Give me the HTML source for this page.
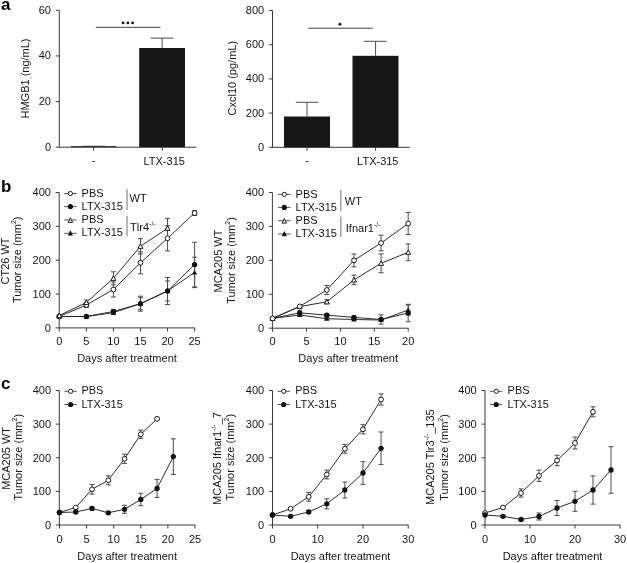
<!DOCTYPE html>
<html><head><meta charset="utf-8"><style>
html,body{margin:0;padding:0;background:#fff;}
body{width:627px;height:563px;overflow:hidden;}
svg{display:block;font-family:"Liberation Sans", sans-serif;filter:grayscale(1);}
</style></head><body>
<svg width="627" height="563" viewBox="0 0 627 563">
<rect width="627" height="563" fill="#fff"/>
<text x="1.00" y="9.60" font-size="17" text-anchor="start" font-weight="bold" fill="#000">a</text>
<text x="1.00" y="191.50" font-size="17" text-anchor="start" font-weight="bold" fill="#000">b</text>
<text x="1.00" y="388.60" font-size="17" text-anchor="start" font-weight="bold" fill="#000">c</text>
<line x1="59.30" y1="10.30" x2="59.30" y2="147.20" stroke="#3a3a3a" stroke-width="1.0"/>
<line x1="55.80" y1="147.20" x2="59.30" y2="147.20" stroke="#3a3a3a" stroke-width="1.0"/>
<text x="51.00" y="150.60" font-size="11" text-anchor="end" font-weight="normal" fill="#151515">0</text>
<line x1="55.80" y1="101.57" x2="59.30" y2="101.57" stroke="#3a3a3a" stroke-width="1.0"/>
<text x="51.00" y="104.97" font-size="11" text-anchor="end" font-weight="normal" fill="#151515">20</text>
<line x1="55.80" y1="55.93" x2="59.30" y2="55.93" stroke="#3a3a3a" stroke-width="1.0"/>
<text x="51.00" y="59.33" font-size="11" text-anchor="end" font-weight="normal" fill="#151515">40</text>
<line x1="55.80" y1="10.30" x2="59.30" y2="10.30" stroke="#3a3a3a" stroke-width="1.0"/>
<text x="51.00" y="13.70" font-size="11" text-anchor="end" font-weight="normal" fill="#151515">60</text>
<line x1="59.30" y1="147.20" x2="196.50" y2="147.20" stroke="#3a3a3a" stroke-width="1.0"/>
<line x1="93.60" y1="147.20" x2="93.60" y2="150.70" stroke="#3a3a3a" stroke-width="1.0"/>
<line x1="162.20" y1="147.20" x2="162.20" y2="150.70" stroke="#3a3a3a" stroke-width="1.0"/>
<text x="93.60" y="164.30" font-size="11" text-anchor="middle" font-weight="normal" fill="#151515">-</text>
<text x="164.20" y="164.60" font-size="11" text-anchor="middle" font-weight="normal" fill="#151515">LTX-315</text>
<rect x="71.0" y="146.20" width="45.4" height="1.0" fill="#222"/>
<line x1="82.30" y1="146.30" x2="105.00" y2="146.30" stroke="#333" stroke-width="1.0"/>
<rect x="139.2" y="48" width="45.8" height="99.20" fill="#171717"/>
<line x1="162.10" y1="48.00" x2="162.10" y2="38.10" stroke="#4c4c4c" stroke-width="1.0"/>
<line x1="150.60" y1="38.10" x2="173.40" y2="38.10" stroke="#4c4c4c" stroke-width="1.0"/>
<line x1="95.80" y1="27.30" x2="160.60" y2="27.30" stroke="#444" stroke-width="1.0"/>
<circle cx="123.1" cy="22.9" r="1.45" fill="#1a1a1a"/>
<circle cx="127.9" cy="22.9" r="1.45" fill="#1a1a1a"/>
<circle cx="132.6" cy="22.9" r="1.45" fill="#1a1a1a"/>
<text x="28.60" y="78.50" font-size="11" text-anchor="middle" font-weight="normal" fill="#151515" transform="rotate(-90 28.60 78.50)">HMGB1 (ng/mL)</text>
<line x1="272.50" y1="10.50" x2="272.50" y2="147.30" stroke="#3a3a3a" stroke-width="1.0"/>
<line x1="269.00" y1="147.30" x2="272.50" y2="147.30" stroke="#3a3a3a" stroke-width="1.0"/>
<text x="264.20" y="150.70" font-size="11" text-anchor="end" font-weight="normal" fill="#151515">0</text>
<line x1="269.00" y1="113.10" x2="272.50" y2="113.10" stroke="#3a3a3a" stroke-width="1.0"/>
<text x="264.20" y="116.50" font-size="11" text-anchor="end" font-weight="normal" fill="#151515">200</text>
<line x1="269.00" y1="78.90" x2="272.50" y2="78.90" stroke="#3a3a3a" stroke-width="1.0"/>
<text x="264.20" y="82.30" font-size="11" text-anchor="end" font-weight="normal" fill="#151515">400</text>
<line x1="269.00" y1="44.70" x2="272.50" y2="44.70" stroke="#3a3a3a" stroke-width="1.0"/>
<text x="264.20" y="48.10" font-size="11" text-anchor="end" font-weight="normal" fill="#151515">600</text>
<line x1="269.00" y1="10.50" x2="272.50" y2="10.50" stroke="#3a3a3a" stroke-width="1.0"/>
<text x="264.20" y="13.90" font-size="11" text-anchor="end" font-weight="normal" fill="#151515">800</text>
<line x1="272.50" y1="147.30" x2="409.80" y2="147.30" stroke="#3a3a3a" stroke-width="1.0"/>
<line x1="307.00" y1="147.30" x2="307.00" y2="150.80" stroke="#3a3a3a" stroke-width="1.0"/>
<line x1="375.60" y1="147.30" x2="375.60" y2="150.80" stroke="#3a3a3a" stroke-width="1.0"/>
<text x="307.00" y="164.30" font-size="11" text-anchor="middle" font-weight="normal" fill="#151515">-</text>
<text x="377.80" y="164.60" font-size="11" text-anchor="middle" font-weight="normal" fill="#151515">LTX-315</text>
<rect x="284" y="116.5" width="46" height="30.80" fill="#171717"/>
<rect x="352.5" y="55.8" width="46" height="91.50" fill="#171717"/>
<line x1="307.00" y1="116.50" x2="307.00" y2="102.30" stroke="#4c4c4c" stroke-width="1.0"/>
<line x1="295.80" y1="102.30" x2="318.30" y2="102.30" stroke="#4c4c4c" stroke-width="1.0"/>
<line x1="375.60" y1="55.80" x2="375.60" y2="41.30" stroke="#4c4c4c" stroke-width="1.0"/>
<line x1="364.00" y1="41.30" x2="386.60" y2="41.30" stroke="#4c4c4c" stroke-width="1.0"/>
<line x1="308.00" y1="28.20" x2="372.70" y2="28.20" stroke="#444" stroke-width="1.0"/>
<circle cx="339.9" cy="24.3" r="1.45" fill="#1a1a1a"/>
<text x="235.60" y="78.20" font-size="11" text-anchor="middle" font-weight="normal" fill="#151515" transform="rotate(-90 235.60 78.20)">Cxcl10 (pg/mL)</text>
<line x1="59.20" y1="192.50" x2="59.20" y2="327.90" stroke="#3a3a3a" stroke-width="1.0"/>
<line x1="55.70" y1="327.90" x2="59.20" y2="327.90" stroke="#3a3a3a" stroke-width="1.0"/>
<text x="50.90" y="331.80" font-size="11" text-anchor="end" font-weight="normal" fill="#151515">0</text>
<line x1="55.70" y1="294.05" x2="59.20" y2="294.05" stroke="#3a3a3a" stroke-width="1.0"/>
<text x="50.90" y="297.95" font-size="11" text-anchor="end" font-weight="normal" fill="#151515">100</text>
<line x1="55.70" y1="260.20" x2="59.20" y2="260.20" stroke="#3a3a3a" stroke-width="1.0"/>
<text x="50.90" y="264.10" font-size="11" text-anchor="end" font-weight="normal" fill="#151515">200</text>
<line x1="55.70" y1="226.35" x2="59.20" y2="226.35" stroke="#3a3a3a" stroke-width="1.0"/>
<text x="50.90" y="230.25" font-size="11" text-anchor="end" font-weight="normal" fill="#151515">300</text>
<line x1="55.70" y1="192.50" x2="59.20" y2="192.50" stroke="#3a3a3a" stroke-width="1.0"/>
<text x="50.90" y="196.40" font-size="11" text-anchor="end" font-weight="normal" fill="#151515">400</text>
<line x1="59.20" y1="327.90" x2="194.80" y2="327.90" stroke="#3a3a3a" stroke-width="1.0"/>
<line x1="59.30" y1="327.90" x2="59.30" y2="331.40" stroke="#3a3a3a" stroke-width="1.0"/>
<text x="59.30" y="344.90" font-size="11" text-anchor="middle" font-weight="normal" fill="#151515">0</text>
<line x1="86.36" y1="327.90" x2="86.36" y2="331.40" stroke="#3a3a3a" stroke-width="1.0"/>
<text x="86.36" y="344.90" font-size="11" text-anchor="middle" font-weight="normal" fill="#151515">5</text>
<line x1="113.42" y1="327.90" x2="113.42" y2="331.40" stroke="#3a3a3a" stroke-width="1.0"/>
<text x="113.42" y="344.90" font-size="11" text-anchor="middle" font-weight="normal" fill="#151515">10</text>
<line x1="140.48" y1="327.90" x2="140.48" y2="331.40" stroke="#3a3a3a" stroke-width="1.0"/>
<text x="140.48" y="344.90" font-size="11" text-anchor="middle" font-weight="normal" fill="#151515">15</text>
<line x1="167.54" y1="327.90" x2="167.54" y2="331.40" stroke="#3a3a3a" stroke-width="1.0"/>
<text x="167.54" y="344.90" font-size="11" text-anchor="middle" font-weight="normal" fill="#151515">20</text>
<line x1="194.60" y1="327.90" x2="194.60" y2="331.40" stroke="#3a3a3a" stroke-width="1.0"/>
<text x="194.60" y="344.90" font-size="11" text-anchor="middle" font-weight="normal" fill="#151515">25</text>
<text x="127.00" y="362.30" font-size="11" text-anchor="middle" font-weight="normal" fill="#151515">Days after treatment</text>
<text x="9.40" y="261.00" font-size="11" text-anchor="middle" font-weight="normal" fill="#151515" transform="rotate(-90 9.40 261.00)">CT26 WT</text>
<text x="21.40" y="259.80" font-size="11" text-anchor="middle" font-weight="normal" fill="#151515" transform="rotate(-90 21.40 259.80)">Tumor size (mm<tspan font-size="7" dy="-5">2</tspan><tspan dy="5">)</tspan></text>
<polyline points="59.30,316.50 86.36,316.50 113.42,312.60 140.48,303.70 167.54,291.00 194.60,272.40" fill="none" stroke="#222" stroke-width="0.95"/>
<polyline points="59.30,316.50 86.36,316.50 113.42,311.50 140.48,303.70 167.54,291.00 194.60,264.60" fill="none" stroke="#222" stroke-width="0.95"/>
<polyline points="59.30,316.50 86.36,305.00 113.42,289.50 140.48,262.80 167.54,238.30 194.60,213.10" fill="none" stroke="#222" stroke-width="0.95"/>
<polyline points="59.30,315.50 86.36,302.50 113.42,278.30 140.48,246.30 167.54,228.30" fill="none" stroke="#222" stroke-width="0.95"/>
<line x1="113.42" y1="310.60" x2="113.42" y2="314.60" stroke="#4c4c4c" stroke-width="1.0"/>
<line x1="110.92" y1="310.60" x2="115.92" y2="310.60" stroke="#4c4c4c" stroke-width="1.0"/>
<line x1="110.92" y1="314.60" x2="115.92" y2="314.60" stroke="#4c4c4c" stroke-width="1.0"/>
<line x1="140.48" y1="297.70" x2="140.48" y2="309.70" stroke="#4c4c4c" stroke-width="1.0"/>
<line x1="137.98" y1="297.70" x2="142.98" y2="297.70" stroke="#4c4c4c" stroke-width="1.0"/>
<line x1="137.98" y1="309.70" x2="142.98" y2="309.70" stroke="#4c4c4c" stroke-width="1.0"/>
<line x1="167.54" y1="281.00" x2="167.54" y2="301.00" stroke="#4c4c4c" stroke-width="1.0"/>
<line x1="165.04" y1="281.00" x2="170.04" y2="281.00" stroke="#4c4c4c" stroke-width="1.0"/>
<line x1="165.04" y1="301.00" x2="170.04" y2="301.00" stroke="#4c4c4c" stroke-width="1.0"/>
<line x1="194.60" y1="257.20" x2="194.60" y2="287.60" stroke="#4c4c4c" stroke-width="1.0"/>
<line x1="192.10" y1="257.20" x2="197.10" y2="257.20" stroke="#4c4c4c" stroke-width="1.0"/>
<line x1="192.10" y1="287.60" x2="197.10" y2="287.60" stroke="#4c4c4c" stroke-width="1.0"/>
<line x1="86.36" y1="315.50" x2="86.36" y2="317.50" stroke="#4c4c4c" stroke-width="1.0"/>
<line x1="83.86" y1="315.50" x2="88.86" y2="315.50" stroke="#4c4c4c" stroke-width="1.0"/>
<line x1="83.86" y1="317.50" x2="88.86" y2="317.50" stroke="#4c4c4c" stroke-width="1.0"/>
<line x1="113.42" y1="309.50" x2="113.42" y2="313.50" stroke="#4c4c4c" stroke-width="1.0"/>
<line x1="110.92" y1="309.50" x2="115.92" y2="309.50" stroke="#4c4c4c" stroke-width="1.0"/>
<line x1="110.92" y1="313.50" x2="115.92" y2="313.50" stroke="#4c4c4c" stroke-width="1.0"/>
<line x1="140.48" y1="296.20" x2="140.48" y2="311.20" stroke="#4c4c4c" stroke-width="1.0"/>
<line x1="137.98" y1="296.20" x2="142.98" y2="296.20" stroke="#4c4c4c" stroke-width="1.0"/>
<line x1="137.98" y1="311.20" x2="142.98" y2="311.20" stroke="#4c4c4c" stroke-width="1.0"/>
<line x1="167.54" y1="277.50" x2="167.54" y2="304.50" stroke="#4c4c4c" stroke-width="1.0"/>
<line x1="165.04" y1="277.50" x2="170.04" y2="277.50" stroke="#4c4c4c" stroke-width="1.0"/>
<line x1="165.04" y1="304.50" x2="170.04" y2="304.50" stroke="#4c4c4c" stroke-width="1.0"/>
<line x1="194.60" y1="242.30" x2="194.60" y2="286.90" stroke="#4c4c4c" stroke-width="1.0"/>
<line x1="192.10" y1="242.30" x2="197.10" y2="242.30" stroke="#4c4c4c" stroke-width="1.0"/>
<line x1="192.10" y1="286.90" x2="197.10" y2="286.90" stroke="#4c4c4c" stroke-width="1.0"/>
<line x1="86.36" y1="302.50" x2="86.36" y2="307.50" stroke="#4c4c4c" stroke-width="1.0"/>
<line x1="83.86" y1="302.50" x2="88.86" y2="302.50" stroke="#4c4c4c" stroke-width="1.0"/>
<line x1="83.86" y1="307.50" x2="88.86" y2="307.50" stroke="#4c4c4c" stroke-width="1.0"/>
<line x1="113.42" y1="282.00" x2="113.42" y2="297.00" stroke="#4c4c4c" stroke-width="1.0"/>
<line x1="110.92" y1="282.00" x2="115.92" y2="282.00" stroke="#4c4c4c" stroke-width="1.0"/>
<line x1="110.92" y1="297.00" x2="115.92" y2="297.00" stroke="#4c4c4c" stroke-width="1.0"/>
<line x1="140.48" y1="251.80" x2="140.48" y2="273.80" stroke="#4c4c4c" stroke-width="1.0"/>
<line x1="137.98" y1="251.80" x2="142.98" y2="251.80" stroke="#4c4c4c" stroke-width="1.0"/>
<line x1="137.98" y1="273.80" x2="142.98" y2="273.80" stroke="#4c4c4c" stroke-width="1.0"/>
<line x1="167.54" y1="225.70" x2="167.54" y2="250.90" stroke="#4c4c4c" stroke-width="1.0"/>
<line x1="165.04" y1="225.70" x2="170.04" y2="225.70" stroke="#4c4c4c" stroke-width="1.0"/>
<line x1="165.04" y1="250.90" x2="170.04" y2="250.90" stroke="#4c4c4c" stroke-width="1.0"/>
<line x1="194.60" y1="210.70" x2="194.60" y2="215.50" stroke="#4c4c4c" stroke-width="1.0"/>
<line x1="192.10" y1="210.70" x2="197.10" y2="210.70" stroke="#4c4c4c" stroke-width="1.0"/>
<line x1="192.10" y1="215.50" x2="197.10" y2="215.50" stroke="#4c4c4c" stroke-width="1.0"/>
<line x1="86.36" y1="300.00" x2="86.36" y2="305.00" stroke="#4c4c4c" stroke-width="1.0"/>
<line x1="83.86" y1="300.00" x2="88.86" y2="300.00" stroke="#4c4c4c" stroke-width="1.0"/>
<line x1="83.86" y1="305.00" x2="88.86" y2="305.00" stroke="#4c4c4c" stroke-width="1.0"/>
<line x1="113.42" y1="271.80" x2="113.42" y2="284.80" stroke="#4c4c4c" stroke-width="1.0"/>
<line x1="110.92" y1="271.80" x2="115.92" y2="271.80" stroke="#4c4c4c" stroke-width="1.0"/>
<line x1="110.92" y1="284.80" x2="115.92" y2="284.80" stroke="#4c4c4c" stroke-width="1.0"/>
<line x1="140.48" y1="238.70" x2="140.48" y2="253.90" stroke="#4c4c4c" stroke-width="1.0"/>
<line x1="137.98" y1="238.70" x2="142.98" y2="238.70" stroke="#4c4c4c" stroke-width="1.0"/>
<line x1="137.98" y1="253.90" x2="142.98" y2="253.90" stroke="#4c4c4c" stroke-width="1.0"/>
<line x1="167.54" y1="218.30" x2="167.54" y2="238.30" stroke="#4c4c4c" stroke-width="1.0"/>
<line x1="165.04" y1="218.30" x2="170.04" y2="218.30" stroke="#4c4c4c" stroke-width="1.0"/>
<line x1="165.04" y1="238.30" x2="170.04" y2="238.30" stroke="#4c4c4c" stroke-width="1.0"/>
<polygon points="59.30,314.30 56.70,318.60 61.90,318.60" fill="#111"/>
<polygon points="86.36,314.30 83.76,318.60 88.96,318.60" fill="#111"/>
<polygon points="113.42,310.40 110.82,314.70 116.02,314.70" fill="#111"/>
<polygon points="140.48,301.50 137.88,305.80 143.08,305.80" fill="#111"/>
<polygon points="167.54,288.80 164.94,293.10 170.14,293.10" fill="#111"/>
<polygon points="194.60,270.20 192.00,274.50 197.20,274.50" fill="#111"/>
<circle cx="59.30" cy="316.50" r="2.65" fill="#111"/>
<circle cx="86.36" cy="316.50" r="2.65" fill="#111"/>
<circle cx="113.42" cy="311.50" r="2.65" fill="#111"/>
<circle cx="140.48" cy="303.70" r="2.65" fill="#111"/>
<circle cx="167.54" cy="291.00" r="2.65" fill="#111"/>
<circle cx="194.60" cy="264.60" r="2.65" fill="#111"/>
<circle cx="59.30" cy="316.50" r="2.40" fill="#fff" stroke="#111" stroke-width="0.95"/>
<circle cx="86.36" cy="305.00" r="2.40" fill="#fff" stroke="#111" stroke-width="0.95"/>
<circle cx="113.42" cy="289.50" r="2.40" fill="#fff" stroke="#111" stroke-width="0.95"/>
<circle cx="140.48" cy="262.80" r="2.40" fill="#fff" stroke="#111" stroke-width="0.95"/>
<circle cx="167.54" cy="238.30" r="2.40" fill="#fff" stroke="#111" stroke-width="0.95"/>
<circle cx="194.60" cy="213.10" r="2.40" fill="#fff" stroke="#111" stroke-width="0.95"/>
<polygon points="59.30,313.05 56.85,317.58 61.75,317.58" fill="#fff" stroke="#111" stroke-width="0.95" stroke-linejoin="round"/>
<polygon points="86.36,300.05 83.91,304.58 88.81,304.58" fill="#fff" stroke="#111" stroke-width="0.95" stroke-linejoin="round"/>
<polygon points="113.42,275.85 110.97,280.38 115.87,280.38" fill="#fff" stroke="#111" stroke-width="0.95" stroke-linejoin="round"/>
<polygon points="140.48,243.85 138.03,248.38 142.93,248.38" fill="#fff" stroke="#111" stroke-width="0.95" stroke-linejoin="round"/>
<polygon points="167.54,225.85 165.09,230.38 169.99,230.38" fill="#fff" stroke="#111" stroke-width="0.95" stroke-linejoin="round"/>
<line x1="64.20" y1="193.50" x2="76.60" y2="193.50" stroke="#555" stroke-width="1.0"/>
<circle cx="70.40" cy="193.50" r="2.10" fill="#fff" stroke="#111" stroke-width="0.95"/>
<text x="81.60" y="196.60" font-size="11" text-anchor="start" font-weight="normal" fill="#151515">PBS</text>
<line x1="64.20" y1="206.60" x2="76.60" y2="206.60" stroke="#555" stroke-width="1.0"/>
<circle cx="70.40" cy="206.60" r="2.60" fill="#111"/>
<text x="81.60" y="209.70" font-size="11" text-anchor="start" font-weight="normal" fill="#151515">LTX-315</text>
<line x1="64.20" y1="220.00" x2="76.60" y2="220.00" stroke="#555" stroke-width="1.0"/>
<polygon points="70.40,217.70 68.25,222.40 72.55,222.40" fill="#fff" stroke="#111" stroke-width="0.95" stroke-linejoin="round"/>
<text x="81.60" y="223.10" font-size="11" text-anchor="start" font-weight="normal" fill="#151515">PBS</text>
<line x1="64.20" y1="233.30" x2="76.60" y2="233.30" stroke="#555" stroke-width="1.0"/>
<polygon points="70.40,230.30 67.80,235.50 73.00,235.50" fill="#111"/>
<text x="81.60" y="236.40" font-size="11" text-anchor="start" font-weight="normal" fill="#151515">LTX-315</text>
<line x1="127.00" y1="188.90" x2="127.00" y2="210.10" stroke="#8a8a8a" stroke-width="1.2"/>
<line x1="127.00" y1="215.70" x2="127.00" y2="236.30" stroke="#8a8a8a" stroke-width="1.2"/>
<text x="129.60" y="201.70" font-size="11" text-anchor="start" font-weight="normal" fill="#151515">WT</text>
<text x="130.10" y="231.10" font-size="11" text-anchor="start" font-weight="normal" fill="#151515">Tlr4<tspan font-size="7" dy="-5">-/-</tspan></text>
<line x1="272.40" y1="192.50" x2="272.40" y2="328.20" stroke="#3a3a3a" stroke-width="1.0"/>
<line x1="268.90" y1="328.20" x2="272.40" y2="328.20" stroke="#3a3a3a" stroke-width="1.0"/>
<text x="264.10" y="332.10" font-size="11" text-anchor="end" font-weight="normal" fill="#151515">0</text>
<line x1="268.90" y1="294.27" x2="272.40" y2="294.27" stroke="#3a3a3a" stroke-width="1.0"/>
<text x="264.10" y="298.17" font-size="11" text-anchor="end" font-weight="normal" fill="#151515">100</text>
<line x1="268.90" y1="260.35" x2="272.40" y2="260.35" stroke="#3a3a3a" stroke-width="1.0"/>
<text x="264.10" y="264.25" font-size="11" text-anchor="end" font-weight="normal" fill="#151515">200</text>
<line x1="268.90" y1="226.42" x2="272.40" y2="226.42" stroke="#3a3a3a" stroke-width="1.0"/>
<text x="264.10" y="230.32" font-size="11" text-anchor="end" font-weight="normal" fill="#151515">300</text>
<line x1="268.90" y1="192.50" x2="272.40" y2="192.50" stroke="#3a3a3a" stroke-width="1.0"/>
<text x="264.10" y="196.40" font-size="11" text-anchor="end" font-weight="normal" fill="#151515">400</text>
<line x1="272.40" y1="328.20" x2="408.60" y2="328.20" stroke="#3a3a3a" stroke-width="1.0"/>
<line x1="272.60" y1="328.20" x2="272.60" y2="331.70" stroke="#3a3a3a" stroke-width="1.0"/>
<text x="272.60" y="345.00" font-size="11" text-anchor="middle" font-weight="normal" fill="#151515">0</text>
<line x1="306.50" y1="328.20" x2="306.50" y2="331.70" stroke="#3a3a3a" stroke-width="1.0"/>
<text x="306.50" y="345.00" font-size="11" text-anchor="middle" font-weight="normal" fill="#151515">5</text>
<line x1="340.40" y1="328.20" x2="340.40" y2="331.70" stroke="#3a3a3a" stroke-width="1.0"/>
<text x="340.40" y="345.00" font-size="11" text-anchor="middle" font-weight="normal" fill="#151515">10</text>
<line x1="374.30" y1="328.20" x2="374.30" y2="331.70" stroke="#3a3a3a" stroke-width="1.0"/>
<text x="374.30" y="345.00" font-size="11" text-anchor="middle" font-weight="normal" fill="#151515">15</text>
<line x1="408.20" y1="328.20" x2="408.20" y2="331.70" stroke="#3a3a3a" stroke-width="1.0"/>
<text x="408.20" y="345.00" font-size="11" text-anchor="middle" font-weight="normal" fill="#151515">20</text>
<text x="348.20" y="362.30" font-size="11" text-anchor="middle" font-weight="normal" fill="#151515">Days after treatment</text>
<text x="222.40" y="261.00" font-size="11" text-anchor="middle" font-weight="normal" fill="#151515" transform="rotate(-90 222.40 261.00)">MCA205 WT</text>
<text x="234.60" y="260.50" font-size="11" text-anchor="middle" font-weight="normal" fill="#151515" transform="rotate(-90 234.60 260.50)">Tumor size (mm<tspan font-size="7" dy="-5">2</tspan><tspan dy="5">)</tspan></text>
<polyline points="272.60,318.40 299.72,315.00 326.84,318.70 353.96,319.50 381.08,320.00 408.20,310.00" fill="none" stroke="#222" stroke-width="0.95"/>
<polyline points="272.60,318.40 299.72,312.80 326.84,315.20 353.96,317.40 381.08,319.50 408.20,313.00" fill="none" stroke="#222" stroke-width="0.95"/>
<polyline points="272.60,318.40 299.72,306.60 326.84,301.80 353.96,279.90 381.08,263.30 408.20,252.30" fill="none" stroke="#222" stroke-width="0.95"/>
<polyline points="272.60,318.40 299.72,306.40 326.84,290.00 353.96,260.40 381.08,243.00 408.20,223.50" fill="none" stroke="#222" stroke-width="0.95"/>
<line x1="299.72" y1="314.00" x2="299.72" y2="316.00" stroke="#4c4c4c" stroke-width="1.0"/>
<line x1="297.22" y1="314.00" x2="302.22" y2="314.00" stroke="#4c4c4c" stroke-width="1.0"/>
<line x1="297.22" y1="316.00" x2="302.22" y2="316.00" stroke="#4c4c4c" stroke-width="1.0"/>
<line x1="326.84" y1="317.70" x2="326.84" y2="319.70" stroke="#4c4c4c" stroke-width="1.0"/>
<line x1="324.34" y1="317.70" x2="329.34" y2="317.70" stroke="#4c4c4c" stroke-width="1.0"/>
<line x1="324.34" y1="319.70" x2="329.34" y2="319.70" stroke="#4c4c4c" stroke-width="1.0"/>
<line x1="353.96" y1="318.50" x2="353.96" y2="320.50" stroke="#4c4c4c" stroke-width="1.0"/>
<line x1="351.46" y1="318.50" x2="356.46" y2="318.50" stroke="#4c4c4c" stroke-width="1.0"/>
<line x1="351.46" y1="320.50" x2="356.46" y2="320.50" stroke="#4c4c4c" stroke-width="1.0"/>
<line x1="381.08" y1="319.00" x2="381.08" y2="321.00" stroke="#4c4c4c" stroke-width="1.0"/>
<line x1="378.58" y1="319.00" x2="383.58" y2="319.00" stroke="#4c4c4c" stroke-width="1.0"/>
<line x1="378.58" y1="321.00" x2="383.58" y2="321.00" stroke="#4c4c4c" stroke-width="1.0"/>
<line x1="408.20" y1="305.00" x2="408.20" y2="315.00" stroke="#4c4c4c" stroke-width="1.0"/>
<line x1="405.70" y1="305.00" x2="410.70" y2="305.00" stroke="#4c4c4c" stroke-width="1.0"/>
<line x1="405.70" y1="315.00" x2="410.70" y2="315.00" stroke="#4c4c4c" stroke-width="1.0"/>
<line x1="299.72" y1="310.80" x2="299.72" y2="314.80" stroke="#4c4c4c" stroke-width="1.0"/>
<line x1="297.22" y1="310.80" x2="302.22" y2="310.80" stroke="#4c4c4c" stroke-width="1.0"/>
<line x1="297.22" y1="314.80" x2="302.22" y2="314.80" stroke="#4c4c4c" stroke-width="1.0"/>
<line x1="326.84" y1="313.70" x2="326.84" y2="316.70" stroke="#4c4c4c" stroke-width="1.0"/>
<line x1="324.34" y1="313.70" x2="329.34" y2="313.70" stroke="#4c4c4c" stroke-width="1.0"/>
<line x1="324.34" y1="316.70" x2="329.34" y2="316.70" stroke="#4c4c4c" stroke-width="1.0"/>
<line x1="353.96" y1="316.40" x2="353.96" y2="318.40" stroke="#4c4c4c" stroke-width="1.0"/>
<line x1="351.46" y1="316.40" x2="356.46" y2="316.40" stroke="#4c4c4c" stroke-width="1.0"/>
<line x1="351.46" y1="318.40" x2="356.46" y2="318.40" stroke="#4c4c4c" stroke-width="1.0"/>
<line x1="381.08" y1="314.90" x2="381.08" y2="324.10" stroke="#4c4c4c" stroke-width="1.0"/>
<line x1="378.58" y1="314.90" x2="383.58" y2="314.90" stroke="#4c4c4c" stroke-width="1.0"/>
<line x1="378.58" y1="324.10" x2="383.58" y2="324.10" stroke="#4c4c4c" stroke-width="1.0"/>
<line x1="408.20" y1="304.30" x2="408.20" y2="321.70" stroke="#4c4c4c" stroke-width="1.0"/>
<line x1="405.70" y1="304.30" x2="410.70" y2="304.30" stroke="#4c4c4c" stroke-width="1.0"/>
<line x1="405.70" y1="321.70" x2="410.70" y2="321.70" stroke="#4c4c4c" stroke-width="1.0"/>
<line x1="299.72" y1="305.60" x2="299.72" y2="307.60" stroke="#4c4c4c" stroke-width="1.0"/>
<line x1="297.22" y1="305.60" x2="302.22" y2="305.60" stroke="#4c4c4c" stroke-width="1.0"/>
<line x1="297.22" y1="307.60" x2="302.22" y2="307.60" stroke="#4c4c4c" stroke-width="1.0"/>
<line x1="326.84" y1="299.80" x2="326.84" y2="303.80" stroke="#4c4c4c" stroke-width="1.0"/>
<line x1="324.34" y1="299.80" x2="329.34" y2="299.80" stroke="#4c4c4c" stroke-width="1.0"/>
<line x1="324.34" y1="303.80" x2="329.34" y2="303.80" stroke="#4c4c4c" stroke-width="1.0"/>
<line x1="353.96" y1="275.10" x2="353.96" y2="284.70" stroke="#4c4c4c" stroke-width="1.0"/>
<line x1="351.46" y1="275.10" x2="356.46" y2="275.10" stroke="#4c4c4c" stroke-width="1.0"/>
<line x1="351.46" y1="284.70" x2="356.46" y2="284.70" stroke="#4c4c4c" stroke-width="1.0"/>
<line x1="381.08" y1="253.90" x2="381.08" y2="272.70" stroke="#4c4c4c" stroke-width="1.0"/>
<line x1="378.58" y1="253.90" x2="383.58" y2="253.90" stroke="#4c4c4c" stroke-width="1.0"/>
<line x1="378.58" y1="272.70" x2="383.58" y2="272.70" stroke="#4c4c4c" stroke-width="1.0"/>
<line x1="408.20" y1="243.90" x2="408.20" y2="260.70" stroke="#4c4c4c" stroke-width="1.0"/>
<line x1="405.70" y1="243.90" x2="410.70" y2="243.90" stroke="#4c4c4c" stroke-width="1.0"/>
<line x1="405.70" y1="260.70" x2="410.70" y2="260.70" stroke="#4c4c4c" stroke-width="1.0"/>
<line x1="299.72" y1="305.40" x2="299.72" y2="307.40" stroke="#4c4c4c" stroke-width="1.0"/>
<line x1="297.22" y1="305.40" x2="302.22" y2="305.40" stroke="#4c4c4c" stroke-width="1.0"/>
<line x1="297.22" y1="307.40" x2="302.22" y2="307.40" stroke="#4c4c4c" stroke-width="1.0"/>
<line x1="326.84" y1="285.50" x2="326.84" y2="294.50" stroke="#4c4c4c" stroke-width="1.0"/>
<line x1="324.34" y1="285.50" x2="329.34" y2="285.50" stroke="#4c4c4c" stroke-width="1.0"/>
<line x1="324.34" y1="294.50" x2="329.34" y2="294.50" stroke="#4c4c4c" stroke-width="1.0"/>
<line x1="353.96" y1="254.00" x2="353.96" y2="266.80" stroke="#4c4c4c" stroke-width="1.0"/>
<line x1="351.46" y1="254.00" x2="356.46" y2="254.00" stroke="#4c4c4c" stroke-width="1.0"/>
<line x1="351.46" y1="266.80" x2="356.46" y2="266.80" stroke="#4c4c4c" stroke-width="1.0"/>
<line x1="381.08" y1="235.20" x2="381.08" y2="250.80" stroke="#4c4c4c" stroke-width="1.0"/>
<line x1="378.58" y1="235.20" x2="383.58" y2="235.20" stroke="#4c4c4c" stroke-width="1.0"/>
<line x1="378.58" y1="250.80" x2="383.58" y2="250.80" stroke="#4c4c4c" stroke-width="1.0"/>
<line x1="408.20" y1="212.50" x2="408.20" y2="234.50" stroke="#4c4c4c" stroke-width="1.0"/>
<line x1="405.70" y1="212.50" x2="410.70" y2="212.50" stroke="#4c4c4c" stroke-width="1.0"/>
<line x1="405.70" y1="234.50" x2="410.70" y2="234.50" stroke="#4c4c4c" stroke-width="1.0"/>
<polygon points="272.60,316.20 270.00,320.50 275.20,320.50" fill="#111"/>
<polygon points="299.72,312.80 297.12,317.10 302.32,317.10" fill="#111"/>
<polygon points="326.84,316.50 324.24,320.80 329.44,320.80" fill="#111"/>
<polygon points="353.96,317.30 351.36,321.60 356.56,321.60" fill="#111"/>
<polygon points="381.08,317.80 378.48,322.10 383.68,322.10" fill="#111"/>
<polygon points="408.20,307.80 405.60,312.10 410.80,312.10" fill="#111"/>
<circle cx="272.60" cy="318.40" r="2.65" fill="#111"/>
<circle cx="299.72" cy="312.80" r="2.65" fill="#111"/>
<circle cx="326.84" cy="315.20" r="2.65" fill="#111"/>
<circle cx="353.96" cy="317.40" r="2.65" fill="#111"/>
<circle cx="381.08" cy="319.50" r="2.65" fill="#111"/>
<circle cx="408.20" cy="313.00" r="2.65" fill="#111"/>
<polygon points="272.60,315.95 270.15,320.48 275.05,320.48" fill="#fff" stroke="#111" stroke-width="0.95" stroke-linejoin="round"/>
<polygon points="299.72,304.15 297.27,308.68 302.17,308.68" fill="#fff" stroke="#111" stroke-width="0.95" stroke-linejoin="round"/>
<polygon points="326.84,299.35 324.39,303.88 329.29,303.88" fill="#fff" stroke="#111" stroke-width="0.95" stroke-linejoin="round"/>
<polygon points="353.96,277.45 351.51,281.98 356.41,281.98" fill="#fff" stroke="#111" stroke-width="0.95" stroke-linejoin="round"/>
<polygon points="381.08,260.85 378.63,265.38 383.53,265.38" fill="#fff" stroke="#111" stroke-width="0.95" stroke-linejoin="round"/>
<polygon points="408.20,249.85 405.75,254.38 410.65,254.38" fill="#fff" stroke="#111" stroke-width="0.95" stroke-linejoin="round"/>
<circle cx="272.60" cy="318.40" r="2.40" fill="#fff" stroke="#111" stroke-width="0.95"/>
<circle cx="299.72" cy="306.40" r="2.40" fill="#fff" stroke="#111" stroke-width="0.95"/>
<circle cx="326.84" cy="290.00" r="2.40" fill="#fff" stroke="#111" stroke-width="0.95"/>
<circle cx="353.96" cy="260.40" r="2.40" fill="#fff" stroke="#111" stroke-width="0.95"/>
<circle cx="381.08" cy="243.00" r="2.40" fill="#fff" stroke="#111" stroke-width="0.95"/>
<circle cx="408.20" cy="223.50" r="2.40" fill="#fff" stroke="#111" stroke-width="0.95"/>
<line x1="278.10" y1="194.40" x2="290.50" y2="194.40" stroke="#555" stroke-width="1.0"/>
<circle cx="284.30" cy="194.40" r="2.10" fill="#fff" stroke="#111" stroke-width="0.95"/>
<text x="295.60" y="197.50" font-size="11" text-anchor="start" font-weight="normal" fill="#151515">PBS</text>
<line x1="278.10" y1="207.40" x2="290.50" y2="207.40" stroke="#555" stroke-width="1.0"/>
<circle cx="284.30" cy="207.40" r="2.60" fill="#111"/>
<text x="295.60" y="210.50" font-size="11" text-anchor="start" font-weight="normal" fill="#151515">LTX-315</text>
<line x1="278.10" y1="220.70" x2="290.50" y2="220.70" stroke="#555" stroke-width="1.0"/>
<polygon points="284.30,218.40 282.15,223.10 286.45,223.10" fill="#fff" stroke="#111" stroke-width="0.95" stroke-linejoin="round"/>
<text x="295.60" y="223.80" font-size="11" text-anchor="start" font-weight="normal" fill="#151515">PBS</text>
<line x1="278.10" y1="234.00" x2="290.50" y2="234.00" stroke="#555" stroke-width="1.0"/>
<polygon points="284.30,231.00 281.70,236.20 286.90,236.20" fill="#111"/>
<text x="295.60" y="237.10" font-size="11" text-anchor="start" font-weight="normal" fill="#151515">LTX-315</text>
<line x1="340.80" y1="189.80" x2="340.80" y2="210.90" stroke="#8a8a8a" stroke-width="1.2"/>
<line x1="340.80" y1="216.40" x2="340.80" y2="237.00" stroke="#8a8a8a" stroke-width="1.2"/>
<text x="344.80" y="205.20" font-size="11" text-anchor="start" font-weight="normal" fill="#151515">WT</text>
<text x="345.80" y="232.30" font-size="11" text-anchor="start" font-weight="normal" fill="#151515">Ifnar1<tspan font-size="7" dy="-5">-/-</tspan></text>
<line x1="59.30" y1="390.50" x2="59.30" y2="525.00" stroke="#3a3a3a" stroke-width="1.0"/>
<line x1="55.80" y1="525.00" x2="59.30" y2="525.00" stroke="#3a3a3a" stroke-width="1.0"/>
<text x="51.00" y="528.90" font-size="11" text-anchor="end" font-weight="normal" fill="#151515">0</text>
<line x1="55.80" y1="491.38" x2="59.30" y2="491.38" stroke="#3a3a3a" stroke-width="1.0"/>
<text x="51.00" y="495.27" font-size="11" text-anchor="end" font-weight="normal" fill="#151515">100</text>
<line x1="55.80" y1="457.75" x2="59.30" y2="457.75" stroke="#3a3a3a" stroke-width="1.0"/>
<text x="51.00" y="461.65" font-size="11" text-anchor="end" font-weight="normal" fill="#151515">200</text>
<line x1="55.80" y1="424.12" x2="59.30" y2="424.12" stroke="#3a3a3a" stroke-width="1.0"/>
<text x="51.00" y="428.02" font-size="11" text-anchor="end" font-weight="normal" fill="#151515">300</text>
<line x1="55.80" y1="390.50" x2="59.30" y2="390.50" stroke="#3a3a3a" stroke-width="1.0"/>
<text x="51.00" y="394.40" font-size="11" text-anchor="end" font-weight="normal" fill="#151515">400</text>
<line x1="59.30" y1="525.00" x2="195.30" y2="525.00" stroke="#3a3a3a" stroke-width="1.0"/>
<line x1="59.50" y1="525.00" x2="59.50" y2="528.50" stroke="#3a3a3a" stroke-width="1.0"/>
<text x="59.50" y="542.90" font-size="11" text-anchor="middle" font-weight="normal" fill="#151515">0</text>
<line x1="86.60" y1="525.00" x2="86.60" y2="528.50" stroke="#3a3a3a" stroke-width="1.0"/>
<text x="86.60" y="542.90" font-size="11" text-anchor="middle" font-weight="normal" fill="#151515">5</text>
<line x1="113.70" y1="525.00" x2="113.70" y2="528.50" stroke="#3a3a3a" stroke-width="1.0"/>
<text x="113.70" y="542.90" font-size="11" text-anchor="middle" font-weight="normal" fill="#151515">10</text>
<line x1="140.80" y1="525.00" x2="140.80" y2="528.50" stroke="#3a3a3a" stroke-width="1.0"/>
<text x="140.80" y="542.90" font-size="11" text-anchor="middle" font-weight="normal" fill="#151515">15</text>
<line x1="167.90" y1="525.00" x2="167.90" y2="528.50" stroke="#3a3a3a" stroke-width="1.0"/>
<text x="167.90" y="542.90" font-size="11" text-anchor="middle" font-weight="normal" fill="#151515">20</text>
<line x1="195.00" y1="525.00" x2="195.00" y2="528.50" stroke="#3a3a3a" stroke-width="1.0"/>
<text x="195.00" y="542.90" font-size="11" text-anchor="middle" font-weight="normal" fill="#151515">25</text>
<text x="127.20" y="560.00" font-size="11" text-anchor="middle" font-weight="normal" fill="#151515">Days after treatment</text>
<text x="9.80" y="458.40" font-size="11" text-anchor="middle" font-weight="normal" fill="#151515" transform="rotate(-90 9.80 458.40)">MCA205 WT</text>
<text x="22.00" y="457.20" font-size="11" text-anchor="middle" font-weight="normal" fill="#151515" transform="rotate(-90 22.00 457.20)">Tumor size (mm<tspan font-size="7" dy="-5">2</tspan><tspan dy="5">)</tspan></text>
<polyline points="59.50,512.50 75.76,507.50 92.02,489.30 108.28,480.30 124.54,458.80 140.80,434.30 157.06,418.80" fill="none" stroke="#222" stroke-width="0.95"/>
<polyline points="59.50,512.50 75.76,512.00 92.02,508.40 108.28,512.80 124.54,509.30 140.80,499.50 157.06,488.40 173.32,456.60" fill="none" stroke="#222" stroke-width="0.95"/>
<line x1="75.76" y1="506.50" x2="75.76" y2="508.50" stroke="#4c4c4c" stroke-width="1.0"/>
<line x1="73.26" y1="506.50" x2="78.26" y2="506.50" stroke="#4c4c4c" stroke-width="1.0"/>
<line x1="73.26" y1="508.50" x2="78.26" y2="508.50" stroke="#4c4c4c" stroke-width="1.0"/>
<line x1="92.02" y1="484.50" x2="92.02" y2="494.10" stroke="#4c4c4c" stroke-width="1.0"/>
<line x1="89.52" y1="484.50" x2="94.52" y2="484.50" stroke="#4c4c4c" stroke-width="1.0"/>
<line x1="89.52" y1="494.10" x2="94.52" y2="494.10" stroke="#4c4c4c" stroke-width="1.0"/>
<line x1="108.28" y1="475.80" x2="108.28" y2="484.80" stroke="#4c4c4c" stroke-width="1.0"/>
<line x1="105.78" y1="475.80" x2="110.78" y2="475.80" stroke="#4c4c4c" stroke-width="1.0"/>
<line x1="105.78" y1="484.80" x2="110.78" y2="484.80" stroke="#4c4c4c" stroke-width="1.0"/>
<line x1="124.54" y1="454.20" x2="124.54" y2="463.40" stroke="#4c4c4c" stroke-width="1.0"/>
<line x1="122.04" y1="454.20" x2="127.04" y2="454.20" stroke="#4c4c4c" stroke-width="1.0"/>
<line x1="122.04" y1="463.40" x2="127.04" y2="463.40" stroke="#4c4c4c" stroke-width="1.0"/>
<line x1="140.80" y1="430.20" x2="140.80" y2="438.40" stroke="#4c4c4c" stroke-width="1.0"/>
<line x1="138.30" y1="430.20" x2="143.30" y2="430.20" stroke="#4c4c4c" stroke-width="1.0"/>
<line x1="138.30" y1="438.40" x2="143.30" y2="438.40" stroke="#4c4c4c" stroke-width="1.0"/>
<line x1="157.06" y1="417.80" x2="157.06" y2="419.80" stroke="#4c4c4c" stroke-width="1.0"/>
<line x1="154.56" y1="417.80" x2="159.56" y2="417.80" stroke="#4c4c4c" stroke-width="1.0"/>
<line x1="154.56" y1="419.80" x2="159.56" y2="419.80" stroke="#4c4c4c" stroke-width="1.0"/>
<line x1="75.76" y1="511.00" x2="75.76" y2="513.00" stroke="#4c4c4c" stroke-width="1.0"/>
<line x1="73.26" y1="511.00" x2="78.26" y2="511.00" stroke="#4c4c4c" stroke-width="1.0"/>
<line x1="73.26" y1="513.00" x2="78.26" y2="513.00" stroke="#4c4c4c" stroke-width="1.0"/>
<line x1="92.02" y1="506.90" x2="92.02" y2="509.90" stroke="#4c4c4c" stroke-width="1.0"/>
<line x1="89.52" y1="506.90" x2="94.52" y2="506.90" stroke="#4c4c4c" stroke-width="1.0"/>
<line x1="89.52" y1="509.90" x2="94.52" y2="509.90" stroke="#4c4c4c" stroke-width="1.0"/>
<line x1="108.28" y1="511.80" x2="108.28" y2="513.80" stroke="#4c4c4c" stroke-width="1.0"/>
<line x1="105.78" y1="511.80" x2="110.78" y2="511.80" stroke="#4c4c4c" stroke-width="1.0"/>
<line x1="105.78" y1="513.80" x2="110.78" y2="513.80" stroke="#4c4c4c" stroke-width="1.0"/>
<line x1="124.54" y1="505.30" x2="124.54" y2="513.30" stroke="#4c4c4c" stroke-width="1.0"/>
<line x1="122.04" y1="505.30" x2="127.04" y2="505.30" stroke="#4c4c4c" stroke-width="1.0"/>
<line x1="122.04" y1="513.30" x2="127.04" y2="513.30" stroke="#4c4c4c" stroke-width="1.0"/>
<line x1="140.80" y1="493.30" x2="140.80" y2="505.70" stroke="#4c4c4c" stroke-width="1.0"/>
<line x1="138.30" y1="493.30" x2="143.30" y2="493.30" stroke="#4c4c4c" stroke-width="1.0"/>
<line x1="138.30" y1="505.70" x2="143.30" y2="505.70" stroke="#4c4c4c" stroke-width="1.0"/>
<line x1="157.06" y1="479.40" x2="157.06" y2="497.40" stroke="#4c4c4c" stroke-width="1.0"/>
<line x1="154.56" y1="479.40" x2="159.56" y2="479.40" stroke="#4c4c4c" stroke-width="1.0"/>
<line x1="154.56" y1="497.40" x2="159.56" y2="497.40" stroke="#4c4c4c" stroke-width="1.0"/>
<line x1="173.32" y1="438.80" x2="173.32" y2="474.40" stroke="#4c4c4c" stroke-width="1.0"/>
<line x1="170.82" y1="438.80" x2="175.82" y2="438.80" stroke="#4c4c4c" stroke-width="1.0"/>
<line x1="170.82" y1="474.40" x2="175.82" y2="474.40" stroke="#4c4c4c" stroke-width="1.0"/>
<circle cx="59.50" cy="512.50" r="2.40" fill="#fff" stroke="#111" stroke-width="0.95"/>
<circle cx="75.76" cy="507.50" r="2.40" fill="#fff" stroke="#111" stroke-width="0.95"/>
<circle cx="92.02" cy="489.30" r="2.40" fill="#fff" stroke="#111" stroke-width="0.95"/>
<circle cx="108.28" cy="480.30" r="2.40" fill="#fff" stroke="#111" stroke-width="0.95"/>
<circle cx="124.54" cy="458.80" r="2.40" fill="#fff" stroke="#111" stroke-width="0.95"/>
<circle cx="140.80" cy="434.30" r="2.40" fill="#fff" stroke="#111" stroke-width="0.95"/>
<circle cx="157.06" cy="418.80" r="2.40" fill="#fff" stroke="#111" stroke-width="0.95"/>
<circle cx="59.50" cy="512.50" r="2.65" fill="#111"/>
<circle cx="75.76" cy="512.00" r="2.65" fill="#111"/>
<circle cx="92.02" cy="508.40" r="2.65" fill="#111"/>
<circle cx="108.28" cy="512.80" r="2.65" fill="#111"/>
<circle cx="124.54" cy="509.30" r="2.65" fill="#111"/>
<circle cx="140.80" cy="499.50" r="2.65" fill="#111"/>
<circle cx="157.06" cy="488.40" r="2.65" fill="#111"/>
<circle cx="173.32" cy="456.60" r="2.65" fill="#111"/>
<line x1="64.40" y1="391.30" x2="76.80" y2="391.30" stroke="#555" stroke-width="1.0"/>
<circle cx="70.60" cy="391.30" r="2.10" fill="#fff" stroke="#111" stroke-width="0.95"/>
<text x="81.40" y="394.40" font-size="11" text-anchor="start" font-weight="normal" fill="#151515">PBS</text>
<line x1="64.40" y1="404.50" x2="76.80" y2="404.50" stroke="#555" stroke-width="1.0"/>
<circle cx="70.60" cy="404.50" r="2.60" fill="#111"/>
<text x="81.40" y="407.60" font-size="11" text-anchor="start" font-weight="normal" fill="#151515">LTX-315</text>
<line x1="272.50" y1="390.50" x2="272.50" y2="525.00" stroke="#3a3a3a" stroke-width="1.0"/>
<line x1="269.00" y1="525.00" x2="272.50" y2="525.00" stroke="#3a3a3a" stroke-width="1.0"/>
<text x="264.20" y="528.90" font-size="11" text-anchor="end" font-weight="normal" fill="#151515">0</text>
<line x1="269.00" y1="491.38" x2="272.50" y2="491.38" stroke="#3a3a3a" stroke-width="1.0"/>
<text x="264.20" y="495.27" font-size="11" text-anchor="end" font-weight="normal" fill="#151515">100</text>
<line x1="269.00" y1="457.75" x2="272.50" y2="457.75" stroke="#3a3a3a" stroke-width="1.0"/>
<text x="264.20" y="461.65" font-size="11" text-anchor="end" font-weight="normal" fill="#151515">200</text>
<line x1="269.00" y1="424.12" x2="272.50" y2="424.12" stroke="#3a3a3a" stroke-width="1.0"/>
<text x="264.20" y="428.02" font-size="11" text-anchor="end" font-weight="normal" fill="#151515">300</text>
<line x1="269.00" y1="390.50" x2="272.50" y2="390.50" stroke="#3a3a3a" stroke-width="1.0"/>
<text x="264.20" y="394.40" font-size="11" text-anchor="end" font-weight="normal" fill="#151515">400</text>
<line x1="272.50" y1="525.00" x2="408.40" y2="525.00" stroke="#3a3a3a" stroke-width="1.0"/>
<line x1="272.50" y1="525.00" x2="272.50" y2="528.50" stroke="#3a3a3a" stroke-width="1.0"/>
<text x="272.50" y="543.20" font-size="11" text-anchor="middle" font-weight="normal" fill="#151515">0</text>
<line x1="317.73" y1="525.00" x2="317.73" y2="528.50" stroke="#3a3a3a" stroke-width="1.0"/>
<text x="317.73" y="543.20" font-size="11" text-anchor="middle" font-weight="normal" fill="#151515">10</text>
<line x1="362.97" y1="525.00" x2="362.97" y2="528.50" stroke="#3a3a3a" stroke-width="1.0"/>
<text x="362.97" y="543.20" font-size="11" text-anchor="middle" font-weight="normal" fill="#151515">20</text>
<line x1="408.20" y1="525.00" x2="408.20" y2="528.50" stroke="#3a3a3a" stroke-width="1.0"/>
<text x="408.20" y="543.20" font-size="11" text-anchor="middle" font-weight="normal" fill="#151515">30</text>
<text x="340.50" y="560.30" font-size="11" text-anchor="middle" font-weight="normal" fill="#151515">Days after treatment</text>
<text x="220.90" y="458.50" font-size="11" text-anchor="middle" font-weight="normal" fill="#151515" transform="rotate(-90 220.90 458.50)">MCA205 Ifnar1<tspan font-size="7" dy="-5">-/-</tspan><tspan dy="5">_7</tspan></text>
<text x="234.50" y="457.20" font-size="11" text-anchor="middle" font-weight="normal" fill="#151515" transform="rotate(-90 234.50 457.20)">Tumor size (mm<tspan font-size="7" dy="-5">2</tspan><tspan dy="5">)</tspan></text>
<polyline points="272.50,515.00 290.59,508.80 308.69,496.80 326.78,474.50 344.87,448.80 362.97,429.30 381.06,399.50" fill="none" stroke="#222" stroke-width="0.95"/>
<polyline points="272.50,515.00 290.59,516.30 308.69,512.00 326.78,503.80 344.87,490.00 362.97,473.00 381.06,448.30" fill="none" stroke="#222" stroke-width="0.95"/>
<line x1="290.59" y1="507.80" x2="290.59" y2="509.80" stroke="#4c4c4c" stroke-width="1.0"/>
<line x1="288.09" y1="507.80" x2="293.09" y2="507.80" stroke="#4c4c4c" stroke-width="1.0"/>
<line x1="288.09" y1="509.80" x2="293.09" y2="509.80" stroke="#4c4c4c" stroke-width="1.0"/>
<line x1="308.69" y1="492.40" x2="308.69" y2="501.20" stroke="#4c4c4c" stroke-width="1.0"/>
<line x1="306.19" y1="492.40" x2="311.19" y2="492.40" stroke="#4c4c4c" stroke-width="1.0"/>
<line x1="306.19" y1="501.20" x2="311.19" y2="501.20" stroke="#4c4c4c" stroke-width="1.0"/>
<line x1="326.78" y1="470.10" x2="326.78" y2="478.90" stroke="#4c4c4c" stroke-width="1.0"/>
<line x1="324.28" y1="470.10" x2="329.28" y2="470.10" stroke="#4c4c4c" stroke-width="1.0"/>
<line x1="324.28" y1="478.90" x2="329.28" y2="478.90" stroke="#4c4c4c" stroke-width="1.0"/>
<line x1="344.87" y1="444.40" x2="344.87" y2="453.20" stroke="#4c4c4c" stroke-width="1.0"/>
<line x1="342.37" y1="444.40" x2="347.37" y2="444.40" stroke="#4c4c4c" stroke-width="1.0"/>
<line x1="342.37" y1="453.20" x2="347.37" y2="453.20" stroke="#4c4c4c" stroke-width="1.0"/>
<line x1="362.97" y1="424.70" x2="362.97" y2="433.90" stroke="#4c4c4c" stroke-width="1.0"/>
<line x1="360.47" y1="424.70" x2="365.47" y2="424.70" stroke="#4c4c4c" stroke-width="1.0"/>
<line x1="360.47" y1="433.90" x2="365.47" y2="433.90" stroke="#4c4c4c" stroke-width="1.0"/>
<line x1="381.06" y1="393.90" x2="381.06" y2="405.10" stroke="#4c4c4c" stroke-width="1.0"/>
<line x1="378.56" y1="393.90" x2="383.56" y2="393.90" stroke="#4c4c4c" stroke-width="1.0"/>
<line x1="378.56" y1="405.10" x2="383.56" y2="405.10" stroke="#4c4c4c" stroke-width="1.0"/>
<line x1="290.59" y1="515.30" x2="290.59" y2="517.30" stroke="#4c4c4c" stroke-width="1.0"/>
<line x1="288.09" y1="515.30" x2="293.09" y2="515.30" stroke="#4c4c4c" stroke-width="1.0"/>
<line x1="288.09" y1="517.30" x2="293.09" y2="517.30" stroke="#4c4c4c" stroke-width="1.0"/>
<line x1="308.69" y1="510.80" x2="308.69" y2="513.20" stroke="#4c4c4c" stroke-width="1.0"/>
<line x1="306.19" y1="510.80" x2="311.19" y2="510.80" stroke="#4c4c4c" stroke-width="1.0"/>
<line x1="306.19" y1="513.20" x2="311.19" y2="513.20" stroke="#4c4c4c" stroke-width="1.0"/>
<line x1="326.78" y1="498.80" x2="326.78" y2="508.80" stroke="#4c4c4c" stroke-width="1.0"/>
<line x1="324.28" y1="498.80" x2="329.28" y2="498.80" stroke="#4c4c4c" stroke-width="1.0"/>
<line x1="324.28" y1="508.80" x2="329.28" y2="508.80" stroke="#4c4c4c" stroke-width="1.0"/>
<line x1="344.87" y1="482.00" x2="344.87" y2="498.00" stroke="#4c4c4c" stroke-width="1.0"/>
<line x1="342.37" y1="482.00" x2="347.37" y2="482.00" stroke="#4c4c4c" stroke-width="1.0"/>
<line x1="342.37" y1="498.00" x2="347.37" y2="498.00" stroke="#4c4c4c" stroke-width="1.0"/>
<line x1="362.97" y1="461.70" x2="362.97" y2="484.30" stroke="#4c4c4c" stroke-width="1.0"/>
<line x1="360.47" y1="461.70" x2="365.47" y2="461.70" stroke="#4c4c4c" stroke-width="1.0"/>
<line x1="360.47" y1="484.30" x2="365.47" y2="484.30" stroke="#4c4c4c" stroke-width="1.0"/>
<line x1="381.06" y1="432.00" x2="381.06" y2="464.60" stroke="#4c4c4c" stroke-width="1.0"/>
<line x1="378.56" y1="432.00" x2="383.56" y2="432.00" stroke="#4c4c4c" stroke-width="1.0"/>
<line x1="378.56" y1="464.60" x2="383.56" y2="464.60" stroke="#4c4c4c" stroke-width="1.0"/>
<circle cx="272.50" cy="515.00" r="2.40" fill="#fff" stroke="#111" stroke-width="0.95"/>
<circle cx="290.59" cy="508.80" r="2.40" fill="#fff" stroke="#111" stroke-width="0.95"/>
<circle cx="308.69" cy="496.80" r="2.40" fill="#fff" stroke="#111" stroke-width="0.95"/>
<circle cx="326.78" cy="474.50" r="2.40" fill="#fff" stroke="#111" stroke-width="0.95"/>
<circle cx="344.87" cy="448.80" r="2.40" fill="#fff" stroke="#111" stroke-width="0.95"/>
<circle cx="362.97" cy="429.30" r="2.40" fill="#fff" stroke="#111" stroke-width="0.95"/>
<circle cx="381.06" cy="399.50" r="2.40" fill="#fff" stroke="#111" stroke-width="0.95"/>
<circle cx="272.50" cy="515.00" r="2.65" fill="#111"/>
<circle cx="290.59" cy="516.30" r="2.65" fill="#111"/>
<circle cx="308.69" cy="512.00" r="2.65" fill="#111"/>
<circle cx="326.78" cy="503.80" r="2.65" fill="#111"/>
<circle cx="344.87" cy="490.00" r="2.65" fill="#111"/>
<circle cx="362.97" cy="473.00" r="2.65" fill="#111"/>
<circle cx="381.06" cy="448.30" r="2.65" fill="#111"/>
<line x1="277.50" y1="391.30" x2="289.90" y2="391.30" stroke="#555" stroke-width="1.0"/>
<circle cx="283.70" cy="391.30" r="2.10" fill="#fff" stroke="#111" stroke-width="0.95"/>
<text x="295.20" y="394.40" font-size="11" text-anchor="start" font-weight="normal" fill="#151515">PBS</text>
<line x1="277.50" y1="404.50" x2="289.90" y2="404.50" stroke="#555" stroke-width="1.0"/>
<circle cx="283.70" cy="404.50" r="2.60" fill="#111"/>
<text x="295.20" y="407.60" font-size="11" text-anchor="start" font-weight="normal" fill="#151515">LTX-315</text>
<line x1="485.00" y1="390.50" x2="485.00" y2="525.00" stroke="#3a3a3a" stroke-width="1.0"/>
<line x1="481.50" y1="525.00" x2="485.00" y2="525.00" stroke="#3a3a3a" stroke-width="1.0"/>
<text x="476.70" y="528.90" font-size="11" text-anchor="end" font-weight="normal" fill="#151515">0</text>
<line x1="481.50" y1="491.38" x2="485.00" y2="491.38" stroke="#3a3a3a" stroke-width="1.0"/>
<text x="476.70" y="495.27" font-size="11" text-anchor="end" font-weight="normal" fill="#151515">100</text>
<line x1="481.50" y1="457.75" x2="485.00" y2="457.75" stroke="#3a3a3a" stroke-width="1.0"/>
<text x="476.70" y="461.65" font-size="11" text-anchor="end" font-weight="normal" fill="#151515">200</text>
<line x1="481.50" y1="424.12" x2="485.00" y2="424.12" stroke="#3a3a3a" stroke-width="1.0"/>
<text x="476.70" y="428.02" font-size="11" text-anchor="end" font-weight="normal" fill="#151515">300</text>
<line x1="481.50" y1="390.50" x2="485.00" y2="390.50" stroke="#3a3a3a" stroke-width="1.0"/>
<text x="476.70" y="394.40" font-size="11" text-anchor="end" font-weight="normal" fill="#151515">400</text>
<line x1="485.00" y1="525.00" x2="620.30" y2="525.00" stroke="#3a3a3a" stroke-width="1.0"/>
<line x1="485.00" y1="525.00" x2="485.00" y2="528.50" stroke="#3a3a3a" stroke-width="1.0"/>
<text x="485.00" y="543.20" font-size="11" text-anchor="middle" font-weight="normal" fill="#151515">0</text>
<line x1="530.00" y1="525.00" x2="530.00" y2="528.50" stroke="#3a3a3a" stroke-width="1.0"/>
<text x="530.00" y="543.20" font-size="11" text-anchor="middle" font-weight="normal" fill="#151515">10</text>
<line x1="575.00" y1="525.00" x2="575.00" y2="528.50" stroke="#3a3a3a" stroke-width="1.0"/>
<text x="575.00" y="543.20" font-size="11" text-anchor="middle" font-weight="normal" fill="#151515">20</text>
<line x1="620.00" y1="525.00" x2="620.00" y2="528.50" stroke="#3a3a3a" stroke-width="1.0"/>
<text x="620.00" y="543.20" font-size="11" text-anchor="middle" font-weight="normal" fill="#151515">30</text>
<text x="552.50" y="560.30" font-size="11" text-anchor="middle" font-weight="normal" fill="#151515">Days after treatment</text>
<text x="434.10" y="457.10" font-size="11" text-anchor="middle" font-weight="normal" fill="#151515" transform="rotate(-90 434.10 457.10)">MCA205 Tlr3<tspan font-size="7" dy="-5">-/-</tspan><tspan dy="5">_135</tspan></text>
<text x="447.60" y="457.40" font-size="11" text-anchor="middle" font-weight="normal" fill="#151515" transform="rotate(-90 447.60 457.40)">Tumor size (mm<tspan font-size="7" dy="-5">2</tspan><tspan dy="5">)</tspan></text>
<polyline points="485.00,513.00 503.00,507.50 521.00,493.00 539.00,475.80 557.00,460.50 575.00,443.00 593.00,411.80" fill="none" stroke="#222" stroke-width="0.95"/>
<polyline points="485.00,515.00 503.00,516.30 521.00,519.50 539.00,516.50 557.00,508.00 575.00,501.30 593.00,490.00 611.00,470.00" fill="none" stroke="#222" stroke-width="0.95"/>
<line x1="503.00" y1="506.50" x2="503.00" y2="508.50" stroke="#4c4c4c" stroke-width="1.0"/>
<line x1="500.50" y1="506.50" x2="505.50" y2="506.50" stroke="#4c4c4c" stroke-width="1.0"/>
<line x1="500.50" y1="508.50" x2="505.50" y2="508.50" stroke="#4c4c4c" stroke-width="1.0"/>
<line x1="521.00" y1="488.90" x2="521.00" y2="497.10" stroke="#4c4c4c" stroke-width="1.0"/>
<line x1="518.50" y1="488.90" x2="523.50" y2="488.90" stroke="#4c4c4c" stroke-width="1.0"/>
<line x1="518.50" y1="497.10" x2="523.50" y2="497.10" stroke="#4c4c4c" stroke-width="1.0"/>
<line x1="539.00" y1="470.20" x2="539.00" y2="481.40" stroke="#4c4c4c" stroke-width="1.0"/>
<line x1="536.50" y1="470.20" x2="541.50" y2="470.20" stroke="#4c4c4c" stroke-width="1.0"/>
<line x1="536.50" y1="481.40" x2="541.50" y2="481.40" stroke="#4c4c4c" stroke-width="1.0"/>
<line x1="557.00" y1="455.30" x2="557.00" y2="465.70" stroke="#4c4c4c" stroke-width="1.0"/>
<line x1="554.50" y1="455.30" x2="559.50" y2="455.30" stroke="#4c4c4c" stroke-width="1.0"/>
<line x1="554.50" y1="465.70" x2="559.50" y2="465.70" stroke="#4c4c4c" stroke-width="1.0"/>
<line x1="575.00" y1="437.10" x2="575.00" y2="448.90" stroke="#4c4c4c" stroke-width="1.0"/>
<line x1="572.50" y1="437.10" x2="577.50" y2="437.10" stroke="#4c4c4c" stroke-width="1.0"/>
<line x1="572.50" y1="448.90" x2="577.50" y2="448.90" stroke="#4c4c4c" stroke-width="1.0"/>
<line x1="593.00" y1="406.80" x2="593.00" y2="416.80" stroke="#4c4c4c" stroke-width="1.0"/>
<line x1="590.50" y1="406.80" x2="595.50" y2="406.80" stroke="#4c4c4c" stroke-width="1.0"/>
<line x1="590.50" y1="416.80" x2="595.50" y2="416.80" stroke="#4c4c4c" stroke-width="1.0"/>
<line x1="503.00" y1="515.30" x2="503.00" y2="517.30" stroke="#4c4c4c" stroke-width="1.0"/>
<line x1="500.50" y1="515.30" x2="505.50" y2="515.30" stroke="#4c4c4c" stroke-width="1.0"/>
<line x1="500.50" y1="517.30" x2="505.50" y2="517.30" stroke="#4c4c4c" stroke-width="1.0"/>
<line x1="521.00" y1="518.50" x2="521.00" y2="520.50" stroke="#4c4c4c" stroke-width="1.0"/>
<line x1="518.50" y1="518.50" x2="523.50" y2="518.50" stroke="#4c4c4c" stroke-width="1.0"/>
<line x1="518.50" y1="520.50" x2="523.50" y2="520.50" stroke="#4c4c4c" stroke-width="1.0"/>
<line x1="539.00" y1="513.00" x2="539.00" y2="520.00" stroke="#4c4c4c" stroke-width="1.0"/>
<line x1="536.50" y1="513.00" x2="541.50" y2="513.00" stroke="#4c4c4c" stroke-width="1.0"/>
<line x1="536.50" y1="520.00" x2="541.50" y2="520.00" stroke="#4c4c4c" stroke-width="1.0"/>
<line x1="557.00" y1="500.50" x2="557.00" y2="515.50" stroke="#4c4c4c" stroke-width="1.0"/>
<line x1="554.50" y1="500.50" x2="559.50" y2="500.50" stroke="#4c4c4c" stroke-width="1.0"/>
<line x1="554.50" y1="515.50" x2="559.50" y2="515.50" stroke="#4c4c4c" stroke-width="1.0"/>
<line x1="575.00" y1="491.30" x2="575.00" y2="511.30" stroke="#4c4c4c" stroke-width="1.0"/>
<line x1="572.50" y1="491.30" x2="577.50" y2="491.30" stroke="#4c4c4c" stroke-width="1.0"/>
<line x1="572.50" y1="511.30" x2="577.50" y2="511.30" stroke="#4c4c4c" stroke-width="1.0"/>
<line x1="593.00" y1="475.90" x2="593.00" y2="504.10" stroke="#4c4c4c" stroke-width="1.0"/>
<line x1="590.50" y1="475.90" x2="595.50" y2="475.90" stroke="#4c4c4c" stroke-width="1.0"/>
<line x1="590.50" y1="504.10" x2="595.50" y2="504.10" stroke="#4c4c4c" stroke-width="1.0"/>
<line x1="611.00" y1="446.70" x2="611.00" y2="493.30" stroke="#4c4c4c" stroke-width="1.0"/>
<line x1="608.50" y1="446.70" x2="613.50" y2="446.70" stroke="#4c4c4c" stroke-width="1.0"/>
<line x1="608.50" y1="493.30" x2="613.50" y2="493.30" stroke="#4c4c4c" stroke-width="1.0"/>
<circle cx="485.00" cy="513.00" r="2.40" fill="#fff" stroke="#111" stroke-width="0.95"/>
<circle cx="503.00" cy="507.50" r="2.40" fill="#fff" stroke="#111" stroke-width="0.95"/>
<circle cx="521.00" cy="493.00" r="2.40" fill="#fff" stroke="#111" stroke-width="0.95"/>
<circle cx="539.00" cy="475.80" r="2.40" fill="#fff" stroke="#111" stroke-width="0.95"/>
<circle cx="557.00" cy="460.50" r="2.40" fill="#fff" stroke="#111" stroke-width="0.95"/>
<circle cx="575.00" cy="443.00" r="2.40" fill="#fff" stroke="#111" stroke-width="0.95"/>
<circle cx="593.00" cy="411.80" r="2.40" fill="#fff" stroke="#111" stroke-width="0.95"/>
<circle cx="485.00" cy="515.00" r="2.65" fill="#111"/>
<circle cx="503.00" cy="516.30" r="2.65" fill="#111"/>
<circle cx="521.00" cy="519.50" r="2.65" fill="#111"/>
<circle cx="539.00" cy="516.50" r="2.65" fill="#111"/>
<circle cx="557.00" cy="508.00" r="2.65" fill="#111"/>
<circle cx="575.00" cy="501.30" r="2.65" fill="#111"/>
<circle cx="593.00" cy="490.00" r="2.65" fill="#111"/>
<circle cx="611.00" cy="470.00" r="2.65" fill="#111"/>
<line x1="490.00" y1="391.30" x2="502.40" y2="391.30" stroke="#555" stroke-width="1.0"/>
<circle cx="496.20" cy="391.30" r="2.10" fill="#fff" stroke="#111" stroke-width="0.95"/>
<text x="507.60" y="394.40" font-size="11" text-anchor="start" font-weight="normal" fill="#151515">PBS</text>
<line x1="490.00" y1="404.50" x2="502.40" y2="404.50" stroke="#555" stroke-width="1.0"/>
<circle cx="496.20" cy="404.50" r="2.60" fill="#111"/>
<text x="507.60" y="407.60" font-size="11" text-anchor="start" font-weight="normal" fill="#151515">LTX-315</text>
</svg>
</body></html>
